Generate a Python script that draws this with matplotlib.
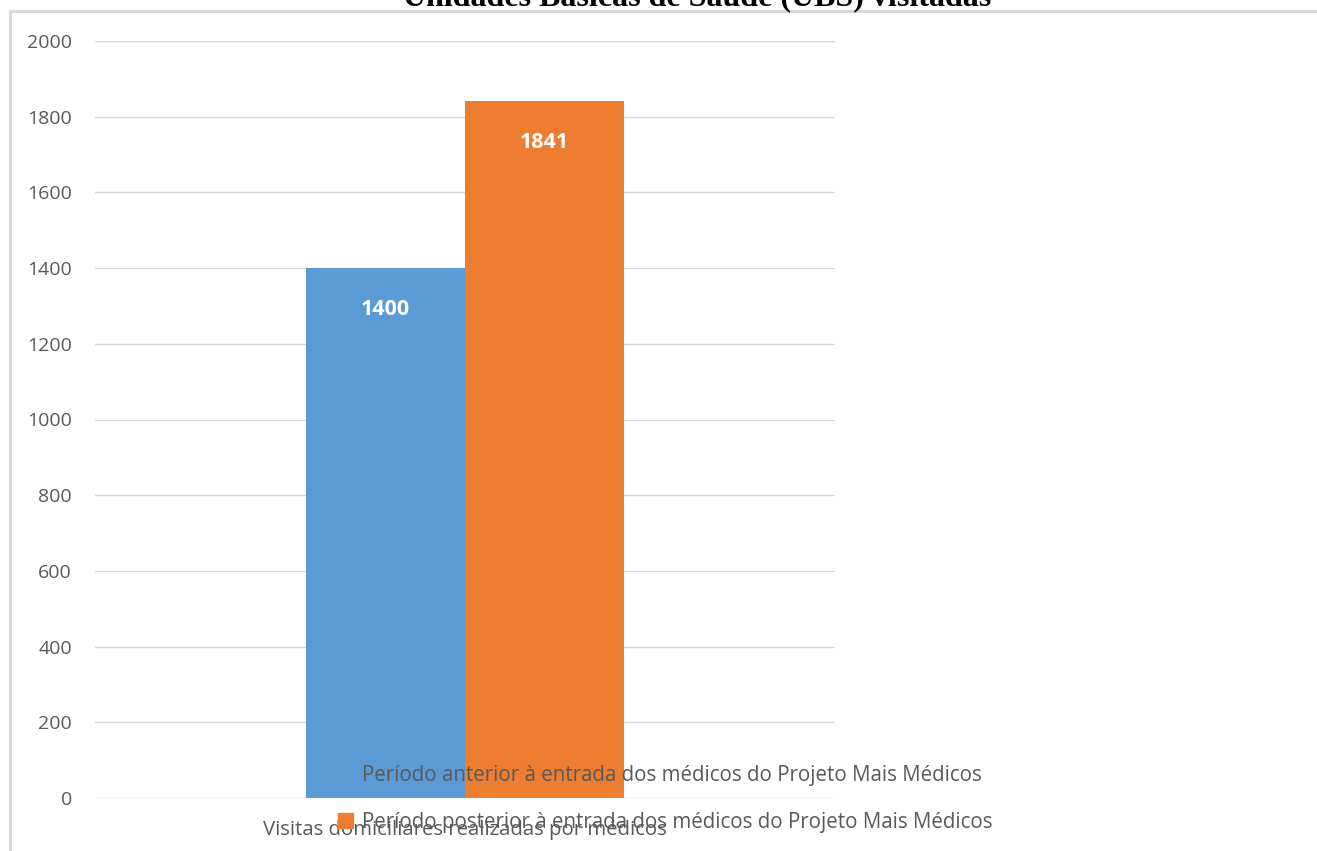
import matplotlib
matplotlib.use("Agg")
import matplotlib.pyplot as plt
import matplotlib.patches as mpatches
from matplotlib.lines import Line2D

# dados
categoria = "Visitas domiciliares realizadas por médicos"
series = ["Período anterior à entrada dos médicos do Projeto Mais Médicos",
          "Período posterior à entrada dos médicos do Projeto Mais Médicos"]
valores = [1400, 1841]
cores = ["#5B9BD5", "#ED7D31"]
yticks = [0, 200, 400, 600, 800, 1000, 1200, 1400, 1600, 1800, 2000]

W, H = 1317, 851
fig = plt.figure(figsize=(W / 100, H / 100), dpi=100)
cinza = "#595959"
fonte = ["Open Sans", "DejaVu Sans"]

# moldura do gráfico
fig.add_artist(Line2D([9.5 / W, 9.5 / W], [0, 1 - 10.5 / H], color="#D9D9D9", lw=2.2))
fig.add_artist(Line2D([9.5 / W, 1], [1 - 10.5 / H, 1 - 10.5 / H], color="#D9D9D9", lw=2.2))

fig.text(697 / W, 1 - 5 / H, "Unidades Básicas de Saúde (UBS) visitadas",
         ha="center", va="baseline", fontsize=23, fontweight="bold",
         family="Liberation Serif", color="black")

ax = fig.add_axes([95 / W, 53 / H, 740 / W, 757 / H])
larg = 0.215
pos = [-larg / 2, larg / 2]
for x, v, c in zip(pos, valores, cores):
    ax.bar(x, v, width=larg, color=c, zorder=2)
    ax.text(x, v - 110, str(v), ha="center", va="center", color="white",
            fontsize=15.5, fontweight="bold", family=fonte)

ax.set_xlim(-0.5, 0.5)
ax.set_ylim(0, 2000)
ax.set_yticks(yticks)
ax.set_yticklabels([str(t) for t in yticks], family=fonte, fontsize=14, color=cinza)
ax.tick_params(axis="y", length=0, pad=16.5)
ax.set_xticks([])
ax.grid(axis="y", color="#D9D9D9", lw=1, zorder=0)
for s in ax.spines.values():
    s.set_visible(False)

fig.text(465 / W, 1 - 830 / H, categoria, ha="center", va="center",
         fontsize=14.7, color=cinza, family=fonte)

handles = [mpatches.Patch(color=c, label=l) for c, l in zip(cores, series)]
leg = fig.legend(handles=handles, loc="upper left",
                 bbox_to_anchor=(338 / W, 1 - 765 / H), frameon=False,
                 handlelength=0.75, handleheight=0.75, handletextpad=0.4,
                 labelspacing=1.25, borderpad=0, borderaxespad=0,
                 prop={"family": fonte, "size": 14.8})
for t in leg.get_texts():
    t.set_color(cinza)

fig.savefig("out.png", dpi=100)
